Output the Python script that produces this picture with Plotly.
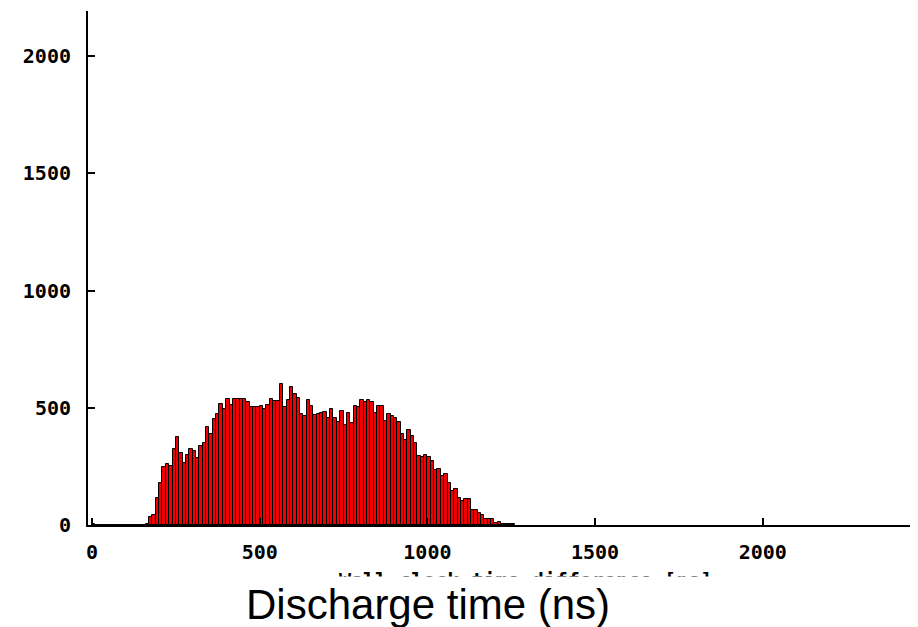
import plotly.graph_objects as go

# Histogram: bin width 10 ns, bins starting at 0 ns
bin_width = 10
counts = [5, 0, 0, 0, 0, 0, 0, 0, 0, 0, 0, 0, 0, 0, 0, 0,
          5, 36, 43, 114, 178, 246, 262, 253, 322, 376,
          305, 266, 299, 322, 314, 284, 337, 351, 419, 388,
          452, 474, 517, 493, 538, 513, 538, 537, 537, 537,
          526, 502, 502, 502, 509, 493, 512, 537, 530, 530,
          600, 502, 533, 590, 557, 543, 473, 465, 533, 509,
          469, 472, 476, 480, 458, 494, 458, 441, 486, 426,
          476, 433, 509, 502, 533, 526, 533, 523, 479, 509,
          509, 444, 472, 466, 458, 441, 389, 362, 405, 381,
          348, 294, 292, 299, 292, 273, 235, 237, 211, 217,
          178, 146, 153, 117, 102, 111, 111, 64, 64, 53,
          43, 26, 26, 26, 10, 14, 6, 6, 4, 4]
bin_left = [i * bin_width for i in range(len(counts))]
bin_center = [b + bin_width / 2 for b in bin_left]

x_ticks = [0, 500, 1000, 1500, 2000]
y_ticks = [0, 500, 1000, 1500, 2000]

hidden_label = "Wall-clock time difference [ns]"
axis_title = "Discharge time (ns)"

fig = go.Figure()
fig.add_trace(go.Bar(
    x=bin_center, y=counts, width=bin_width,
    marker=dict(color="#f00000", line=dict(color="black", width=1)),
    showlegend=False,
))

tick_font = dict(family="DejaVu Sans Mono", size=20, color="black", weight="bold")

fig.update_layout(
    width=918, height=627,
    margin=dict(l=88, r=8, t=11, b=102, pad=0, autoexpand=False),
    paper_bgcolor="white", plot_bgcolor="white",
    bargap=0,
    xaxis=dict(range=[-12, 2439], tickvals=x_ticks, ticktext=[str(v) for v in x_ticks],
               showgrid=False, zeroline=False, showline=True, linecolor="black", linewidth=2,
               ticks="inside", ticklen=7, tickwidth=1.5, tickcolor="black",
               tickfont=tick_font, ticklabelstandoff=8, automargin=False),
    yaxis=dict(range=[0, 2192], tickvals=y_ticks, ticktext=[str(v) for v in y_ticks],
               showgrid=False, zeroline=False, showline=True, linecolor="black", linewidth=2,
               ticks="inside", ticklen=7, tickwidth=1.5, tickcolor="black",
               tickfont=tick_font, ticklabelstandoff=11, automargin=False),
    annotations=[
        dict(text=hidden_label, xref="paper", yref="paper", x=(525 - 88) / 822, y=-(566 - 525) / 514,
             xanchor="center", yanchor="top", showarrow=False,
             font=dict(family="DejaVu Sans Mono", size=20, color="black", weight="bold")),
        dict(text=axis_title, xref="paper", yref="paper", x=(245 - 88) / 822, y=-(576 - 525) / 514,
             xanchor="left", yanchor="top", showarrow=False, align="left",
             width=480, height=54, bgcolor="white", borderpad=0,
             font=dict(family="Liberation Sans, Arial", size=42, color="black")),
    ],
)

fig.write_html("out.html", config={"displayModeBar": False},
               post_script="document.body.style.margin='0';document.body.style.padding='0';")
